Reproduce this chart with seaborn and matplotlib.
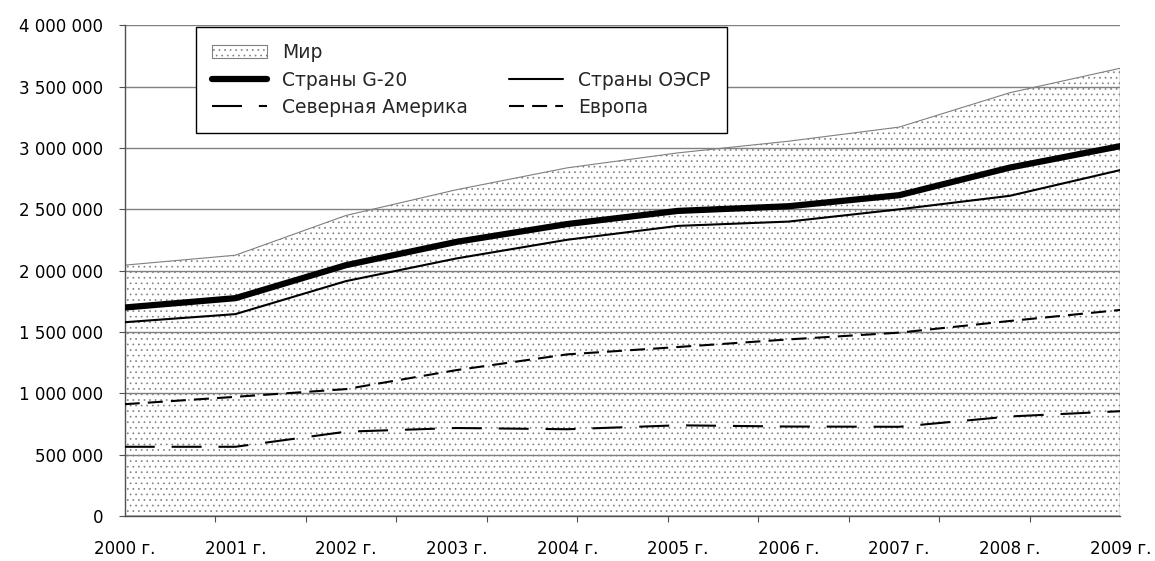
import numpy as np
import pandas as pd
import matplotlib.pyplot as plt
import matplotlib.ticker as mticker
from matplotlib.lines import Line2D
import seaborn as sns

# Data
years = [2000, 2001, 2002, 2003, 2004, 2005, 2006, 2007, 2008, 2009]
year_labels = [f"{y} г." for y in years]
world = [2045000, 2126000, 2450000, 2660000, 2838000, 2960000, 3055000, 3170000, 3450000, 3650000]
g20 = [1700000, 1776000, 2045000, 2235000, 2380000, 2487000, 2525000, 2615000, 2840000, 3015000]
oecd = [1580000, 1646000, 1915000, 2100000, 2252000, 2365000, 2400000, 2500000, 2610000, 2820000]
europe = [912000, 972000, 1035000, 1190000, 1318000, 1378000, 1440000, 1495000, 1590000, 1680000]
north_america = [565000, 565000, 688000, 718000, 708000, 740000, 730000, 728000, 812000, 855000]

df = pd.DataFrame({
    "year": years,
    "world": world,
    "g20": g20,
    "oecd": oecd,
    "europe": europe,
    "na": north_america,
})

sns.set_theme(style="white")
plt.rcParams["font.family"] = ["DejaVu Sans"]
plt.rcParams["hatch.color"] = "#303030"
plt.rcParams["hatch.linewidth"] = 0.5

FS = 12
LEG_FS = 13.5

fig, ax = plt.subplots(figsize=(11.55, 5.61), dpi=100)
fig.subplots_adjust(left=0.108, right=0.970, bottom=0.080, top=0.955)

# World area with stippled fill
ax.fill_between(df["year"], 0, df["world"], facecolor="white", edgecolor="#808080",
                hatch="...", linewidth=0.8, zorder=1, label="Мир")

sns.lineplot(data=df, x="year", y="g20", ax=ax, color="black", linewidth=4.5,
             label="Страны G-20", zorder=3)
sns.lineplot(data=df, x="year", y="oecd", ax=ax, color="black", linewidth=1.5,
             label="Страны ОЭСР", zorder=3)
sns.lineplot(data=df, x="year", y="na", ax=ax, color="black", linewidth=1.5,
             dashes=(14.4, 8.1), label="Северная Америка", zorder=3)
sns.lineplot(data=df, x="year", y="europe", ax=ax, color="black", linewidth=1.5,
             dashes=(7.2, 3.9), label="Европа", zorder=3)

ax.set_xlim(2000, 2009)
ax.set_ylim(0, 4000000)
ax.set_xlabel("")
ax.set_ylabel("")

ax.yaxis.set_major_locator(mticker.MultipleLocator(500000))
ax.yaxis.set_major_formatter(mticker.FuncFormatter(lambda v, p: f"{int(v):,}".replace(",", " ")))
ax.set_xticks(years)
ax.set_xticklabels(year_labels)
ax.set_xticks(np.linspace(2000, 2009, 12), minor=True)

ax.grid(axis="y", color="#808080", linewidth=1.0)
ax.set_axisbelow("line")

for side in ["top", "right"]:
    ax.spines[side].set_visible(False)
for side in ["left", "bottom"]:
    ax.spines[side].set_color("#505050")
    ax.spines[side].set_linewidth(1.0)

ax.tick_params(axis="y", which="major", left=True, length=4.5, width=0.8, color="#505050",
               pad=11, labelsize=FS, labelcolor="black")
ax.tick_params(axis="x", which="major", bottom=True, length=0, pad=17, labelsize=FS,
               labelcolor="black")
ax.tick_params(axis="x", which="minor", bottom=True, length=4.5, width=0.8, color="#505050")

# Legend: two columns, first column has three entries, second has an empty slot on top
handles, labels = ax.get_legend_handles_labels()
hd = dict(zip(labels, handles))
blank = Line2D([], [], color="none")
order_h = [hd["Мир"], hd["Страны G-20"], hd["Северная Америка"],
           blank, hd["Страны ОЭСР"], hd["Европа"]]
order_l = ["Мир", "Страны G-20", "Северная Америка", "", "Страны ОЭСР", "Европа"]
leg = ax.legend(order_h, order_l, ncol=2, loc="upper left", bbox_to_anchor=(0.072, 0.996),
                borderaxespad=0, fontsize=LEG_FS, frameon=True, fancybox=False, framealpha=1,
                handlelength=2.9, handletextpad=0.8, columnspacing=2.2,
                labelspacing=0.45, borderpad=0.85)
leg.get_frame().set_edgecolor("black")
leg.get_frame().set_linewidth(1.0)
leg.set_zorder(5)

fig.savefig("out.png", dpi=100)
